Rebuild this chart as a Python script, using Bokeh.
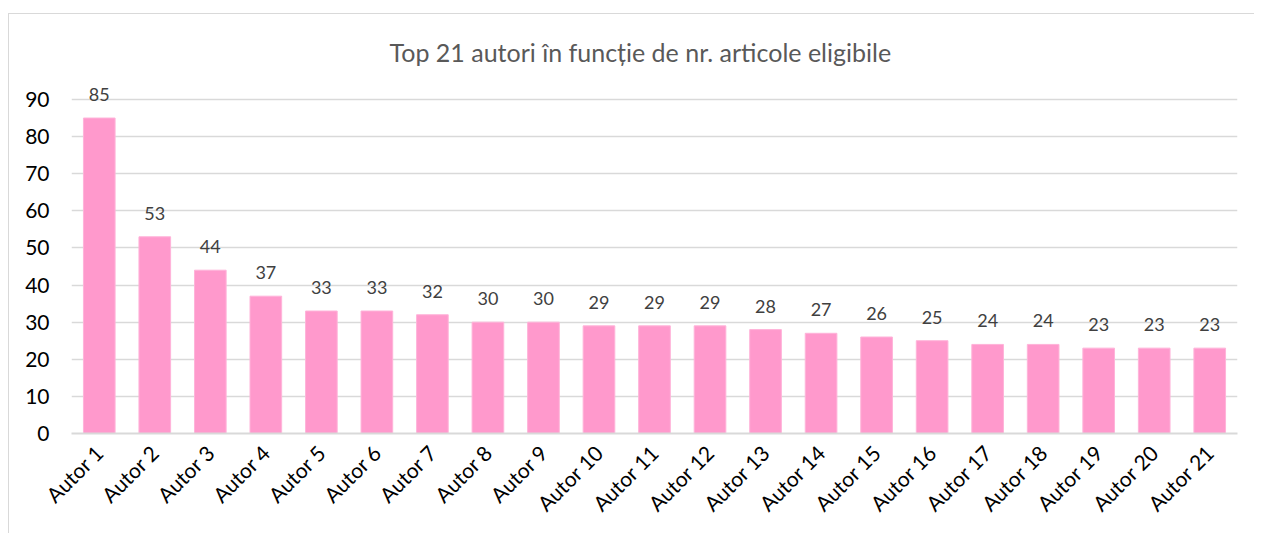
import math
from bokeh.plotting import figure
from bokeh.models import ColumnDataSource, LabelSet, Range1d, FactorRange, FixedTicker
from bokeh.core.properties import value
from bokeh.embed import file_html
from bokeh.resources import INLINE

authors = [f"Autor {i}" for i in range(1, 22)]
counts = [85, 53, 44, 37, 33, 33, 32, 30, 30, 29, 29, 29, 28, 27, 26, 25, 24, 24, 23, 23, 23]
y_ticks = [0, 10, 20, 30, 40, 50, 60, 70, 80, 90]
title_text = "Top 21 autori în funcție de nr. articole eligibile"

src = ColumnDataSource(dict(x=authors, y=counts, lbl=[str(c) for c in counts]))

FONT = "Lato"
# figure placed at (9.5, 14.5) by the margins + border below
p = figure(x_range=FactorRange(*authors, range_padding=0), y_range=Range1d(0, 97),
           width=1246, height=520, output_backend="svg", toolbar_location=None,
           min_border_left=62, min_border_right=18, min_border_top=59, min_border_bottom=101)
p.styles = {"margin-left": "8px", "margin-top": "13px",
            "border-left": "1.5px solid #D9D9D9", "border-top": "1.5px solid #D9D9D9"}

p.title.text = title_text
p.title.align = "left"
p.title.offset = 318
p.title.text_font = FONT
p.title.text_font_size = "25px"
p.title.text_font_style = "normal"
p.title.text_color = "#595959"
p.title.standoff = 13

p.vbar(x="x", top="y", width=0.57, source=src, fill_color="#FF99CC", line_color="#FFB3D9", line_width=1)

labels = LabelSet(x="x", y="y", text="lbl", source=src, text_align="center", text_baseline="bottom",
                  y_offset=17, text_font=value(FONT), text_font_size="18px", text_color="#404040")
p.add_layout(labels)

p.outline_line_color = None
p.xgrid.grid_line_color = None
p.ygrid.grid_line_color = "#D9D9D9"
p.ygrid.grid_line_width = 1.3
p.yaxis.ticker = FixedTicker(ticks=y_ticks)
p.yaxis.axis_line_color = None
p.yaxis.major_tick_line_color = None
p.yaxis.minor_tick_line_color = None
p.yaxis.major_label_text_font = FONT
p.yaxis.major_label_text_font_size = "21px"
p.yaxis.major_label_text_color = "#000000"
p.yaxis.major_label_standoff = 16

p.xaxis.axis_line_color = "#D9D9D9"
p.xaxis.axis_line_width = 2
p.xaxis.major_tick_line_color = None
p.xaxis.minor_tick_line_color = None
p.xaxis.major_label_orientation = math.pi / 4
p.xaxis.major_label_text_font = FONT
p.xaxis.major_label_text_font_size = "21px"
p.xaxis.major_label_text_color = "#000000"
p.xaxis.major_label_standoff = 9

open("out.html", "w").write(file_html(p, INLINE))
